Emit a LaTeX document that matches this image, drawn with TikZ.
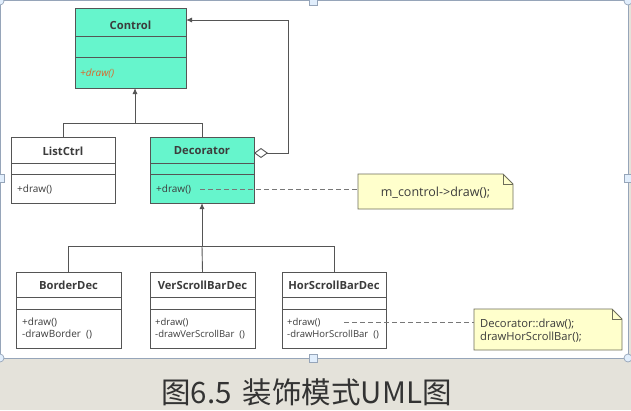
\documentclass[tikz,border=0pt]{standalone}
\usepackage{fontspec}
\newfontfamily\umlfont{Open Sans}
\newfontfamily\cjk{Noto Sans CJK SC}
\usetikzlibrary{arrows.meta}
\definecolor{mint}{RGB}{102,245,204}
\definecolor{boxline}{RGB}{85,85,85}
\definecolor{txt}{RGB}{60,60,60}
\definecolor{orangetxt}{RGB}{222,100,40}
\definecolor{noteyellow}{RGB}{255,255,204}
\definecolor{noteline}{RGB}{110,110,90}
\definecolor{bgbeige}{RGB}{228,226,218}
\definecolor{panelline}{RGB}{150,165,185}
\definecolor{handlefill}{RGB}{225,238,252}
\tikzset{
  classbox/.style={draw=boxline, line width=0.9pt, anchor=north west, inner sep=0pt, outer sep=0pt},
  sepline/.style={draw=boxline, line width=0.9pt},
  ctitle/.style={font=\umlfont\bfseries\fontsize{11.2}{13}\selectfont, text=txt, inner sep=0pt},
  cmethod/.style={font=\umlfont\fontsize{10}{12.5}\selectfont, text=txt, inner sep=0pt, anchor=west, align=left},
  conn/.style={draw=boxline, line width=0.9pt},
  inh/.style={conn, -{Latex[length=6pt,width=5pt]}},
  dashconn/.style={draw=boxline!80, line width=0.9pt, dash pattern=on 5pt off 3pt},
  notebox/.style={anchor=north west, inner sep=0pt, outer sep=0pt},
  notefill/.style={fill=noteyellow, draw=noteline, line width=0.9pt, line join=miter},
  notetext/.style={text=txt, inner sep=0pt},
  handle/.style={fill=handlefill, draw=panelline, line width=0.7pt}
}
\begin{document}
\begin{tikzpicture}[x=1pt,y=-1pt]
\useasboundingbox (0,0) rectangle (631,410);
\fill[bgbeige] (0,0) rectangle (631,410);
\fill[white, draw=panelline, line width=0.8pt] (0,0.5) rectangle (628,358);

% ---------- Control ----------
\node[classbox, fill=mint, minimum width=111pt, minimum height=80pt] (control) at (75,8) {};
\draw[sepline] (control.west |- 0,36) -- (control.east |- 0,36);
\draw[sepline] (control.west |- 0,57) -- (control.east |- 0,57);
\node[ctitle] (controlT) at (control.north |- 0,25) {Control};
\node[cmethod, text=orangetxt, font=\umlfont\itshape\fontsize{10}{12}\selectfont] (controlM) at (80,73) {+draw()};

% ---------- ListCtrl ----------
\node[classbox, fill=white, minimum width=104pt, minimum height=66pt] (listctrl) at (11,137) {};
\draw[sepline] (listctrl.west |- 0,163) -- (listctrl.east |- 0,163);
\draw[sepline] (listctrl.west |- 0,174) -- (listctrl.east |- 0,174);
\node[ctitle] (listctrlT) at (listctrl.north |- 0,151) {ListCtrl};
\node[cmethod] (listctrlM) at (17,189) {+draw()};

% ---------- Decorator ----------
\node[classbox, fill=mint, minimum width=104pt, minimum height=66pt] (decorator) at (150,137) {};
\draw[sepline] (decorator.west |- 0,163) -- (decorator.east |- 0,163);
\draw[sepline] (decorator.west |- 0,174) -- (decorator.east |- 0,174);
\node[ctitle] (decoratorT) at (decorator.north |- 0,151) {Decorator};
\node[cmethod] (decoratorM) at (156,189) {+draw()};

% ---------- Bottom row ----------
\node[classbox, fill=white, minimum width=105pt, minimum height=76pt] (border) at (16,272) {};
\draw[sepline] (border.west |- 0,297) -- (border.east |- 0,297);
\draw[sepline] (border.west |- 0,309) -- (border.east |- 0,309);
\node[ctitle] (borderT) at (border.north |- 0,285) {BorderDec};
\node[cmethod] (borderM) at (22,328.5) {+draw()\\[-1pt]-drawBorder\ \ ()};

\node[classbox, fill=white, minimum width=105pt, minimum height=76pt] (ver) at (150,272) {};
\draw[sepline] (ver.west |- 0,297) -- (ver.east |- 0,297);
\draw[sepline] (ver.west |- 0,309) -- (ver.east |- 0,309);
\node[ctitle] (verT) at (ver.north |- 0,285) {VerScrollBarDec};
\node[cmethod, font=\umlfont\fontsize{9.5}{12.5}\selectfont] (verM) at (155,328.5) {+draw()\\[-1pt]-drawVerScrollBar\ \ ()};

\node[classbox, fill=white, minimum width=104pt, minimum height=76pt] (hor) at (282,272) {};
\draw[sepline] (hor.west |- 0,297) -- (hor.east |- 0,297);
\draw[sepline] (hor.west |- 0,309) -- (hor.east |- 0,309);
\node[ctitle] (horT) at (hor.north |- 0,285) {HorScrollBarDec};
\node[cmethod, font=\umlfont\fontsize{9.5}{12.5}\selectfont] (horM) at (287,328.5) {+draw()\\[-1pt]-drawHorScrollBar\ \ ()};

% ---------- Inheritance: ListCtrl, Decorator -> Control ----------
\coordinate (j1) at (135,123);
\draw[conn] (listctrl.north) |- (decorator.north |- j1) -- (decorator.north);
\draw[inh] (j1) -- (j1 |- control.south);

% ---------- Aggregation: Decorator <>-> Control ----------
\coordinate (aggc) at (288,20);
\draw[conn, {Diamond[open, length=14pt, width=10pt, fill=white]}-{Latex[length=6pt,width=5pt]}]
  (decorator.east |- 0,153) -| (aggc) -- (control.east |- aggc);

% ---------- Inheritance: bottom row -> Decorator ----------
\coordinate (j2) at (202,246);
\draw[conn] (border.north) |- (hor.north |- j2) -- (hor.north);
\draw[conn] (ver.north) -- (j2);
\draw[inh] (j2) -- (decorator.south);

% ---------- Notes ----------
\node[notebox, minimum width=155pt, minimum height=35pt] (note1) at (358,174) {};
\draw[notefill] (note1.south west) -- (note1.north west) -- ([xshift=-10pt]note1.north east)
  -- ([yshift=-10pt]note1.north east) -- (note1.south east) -- cycle;
\draw[draw=noteline, line width=0.8pt] ([xshift=-10pt]note1.north east) |- ([yshift=-10pt]note1.north east);
\node[notetext, font=\umlfont\fontsize{12.5}{14}\selectfont] (note1T) at ([yshift=-1pt]note1.center) {m\_control->draw();};

\node[notebox, minimum width=148pt, minimum height=41pt] (note2) at (474,309) {};
\draw[notefill] (note2.south west) -- (note2.north west) -- ([xshift=-10pt]note2.north east)
  -- ([yshift=-10pt]note2.north east) -- (note2.south east) -- cycle;
\draw[draw=noteline, line width=0.8pt] ([xshift=-10pt]note2.north east) |- ([yshift=-10pt]note2.north east);
\node[notetext, anchor=west, align=left, font=\umlfont\fontsize{11.2}{13}\selectfont] (note2T) at (480,331) {Decorator::draw();\\drawHorScrollBar();};

% ---------- Note links ----------
\coordinate (d1) at (200,189);
\draw[dashconn] (d1) -- (note1.west |- d1);
\coordinate (d2) at (344,322);
\draw[dashconn] (d2) -- (note2.west |- d2);

% ---------- Selection handles ----------
\foreach \p in {(313,1),(0,178),(628,178),(313,358)}
  \draw[handle] \p ++(-4,-4) rectangle ++(8,8);
\foreach \p in {(0,1),(628,1),(0,358),(628,358)}
  \draw[handle] \p circle (4);

% ---------- Caption ----------
\node[font=\cjk\fontsize{29.5}{34}\selectfont, text=black!80, inner sep=0pt] (caption) at (306.5,392) {图6.5\hspace{11pt}装饰模式UML图};
\end{tikzpicture}
\end{document}
